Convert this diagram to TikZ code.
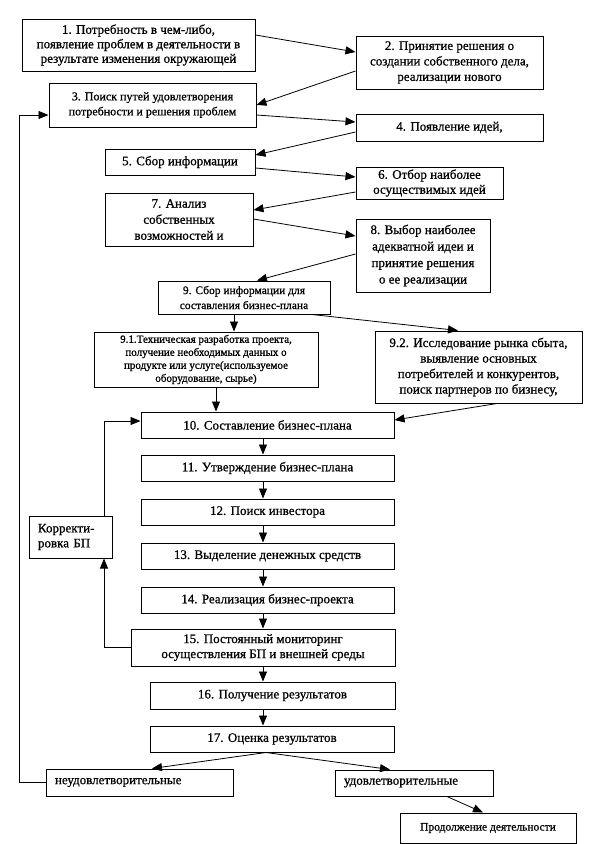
\documentclass[tikz,border=0pt]{standalone}
\usepackage{fontspec}
\setmainfont{Liberation Serif}[FakeBold=0.8]
\usetikzlibrary{arrows.meta}
\begin{document}
\begin{tikzpicture}[x=1pt,y=-1pt,
 box/.style={draw, line width=1pt, align=center, inner sep=2pt, font=\fontsize{13}{14.5}\selectfont},
 lbox/.style={box, align=left, inner xsep=9pt},
 fs/.style 2 args={font=\fontsize{#1}{#2}\selectfont},
 arr/.style={line width=0.8pt, -{Triangle[length=10pt,width=8pt]}},
 ]
\fill[white] (0,0) rectangle (595,844);
\useasboundingbox (0,0) rectangle (595,844);

\node[box, minimum width=233pt, minimum height=52pt] (b1) at (138.5,45) {1. Потребность в чем-либо,\\ появление проблем в деятельности в\\ результате изменения окружающей};
\node[box, fs={13}{15.5}, minimum width=187pt, minimum height=53pt] (b2) at (449.5,62.5) {2. Принятие решения о\\ создании собственного дела,\\ реализации нового};
\node[box, fs={12}{15}, minimum width=207pt, minimum height=44pt] (b3) at (152.5,105) {3. Поиск путей удовлетворения\\ потребности и решения проблем};
\node[box, minimum width=187pt, minimum height=27pt] (b4) at (449.5,127.5) {4. Появление идей,};
\node[box, minimum width=150pt, minimum height=26pt] (b5) at (180,162) {5. Сбор информации};
\node[box, fs={13}{15}, minimum width=147pt, minimum height=32pt] (b6) at (429.5,183) {6. Отбор наиболее\\ осуществимых идей};
\node[box, fs={13}{16}, minimum width=148pt, minimum height=53pt] (b7) at (179,219.5) {7. Анализ\\ собственных\\ возможностей и};
\node[box, fs={13}{16.5}, minimum width=134pt, minimum height=73pt] (b8) at (423,255.5) {8. Выбор наиболее\\ адекватной идеи и\\ принятие решения\\ о ее реализации};
\node[box, fs={11.5}{15}, minimum width=172pt, minimum height=33pt] (b9) at (244,297.5) {9. Сбор информации для\\ составления бизнес-плана};
\node[box, fs={11}{13}, minimum width=224pt, minimum height=55pt] (b91) at (206,359.5) {9.1.Техническая разработка проекта,\\ получение необходимых данных о\\ продукте или услуге(используемое\\ оборудование, сырье)};
\node[box, fs={13}{15.5}, minimum width=207pt, minimum height=72pt] (b92) at (478.5,367) {9.2. Исследование рынка сбыта,\\ выявление основных\\ потребителей и конкурентов,\\ поиск партнеров по бизнесу,};
\node[box, minimum width=253pt, minimum height=26pt] (b10) at (267.5,425) {10. Составление бизнес-плана};
\node[box, minimum width=253pt, minimum height=26pt] (b11) at (267.5,468) {11. Утверждение бизнес-плана};
\node[box, minimum width=253pt, minimum height=26pt] (b12) at (267.5,512) {12. Поиск инвестора};
\node[box, minimum width=253pt, minimum height=26pt] (b13) at (267.5,556) {13. Выделение денежных средств};
\node[box, minimum width=253pt, minimum height=26pt] (b14) at (267.5,600) {14. Реализация бизнес-проекта};
\node[box, fs={13}{15}, minimum width=264pt, minimum height=37pt] (b15) at (263,647.5) {15. Постоянный мониторинг\\ осуществления БП и внешней среды};
\node[box, minimum width=245pt, minimum height=27pt] (b16) at (272.5,695.5) {16. Получение результатов};
\node[box, minimum width=244pt, minimum height=26pt] (b17) at (272,739) {17. Оценка результатов};
\node[lbox, text width=169pt, minimum height=27pt] (bn) at (139.5,782.5) {неудовлетворительные};
\node[lbox, text width=140pt, minimum height=26pt] (bu) at (414,783) {удовлетворительные};
\node[box, fs={11.5}{13}, minimum width=176pt, minimum height=30pt] (bp) at (488,828) {Продолжение деятельности};
\node[lbox, fs={13}{15}, text width=65pt, minimum height=42pt] (bk) at (70.5,537) {Корректи-\\ровка БП};

\coordinate (L) at (19,115);
\coordinate (K) at (104,421);

\draw[arr] (b1.east |- 0,35) -- (b2.west |- 0,52);
\draw[arr] (b2.west |- 0,71) -- (b3.east |- 0,105);
\draw[arr] (b3.east |- 0,115) -- (b4.west |- 0,122);
\draw[arr] (b4.west |- 0,132) -- (b5.east |- 0,155);
\draw[arr] (b5.east |- 0,168) -- (b6.west |- 0,177);
\draw[arr] (b6.west |- 0,192) -- (b7.east |- 0,210);
\draw[arr] (b7.east |- 0,219) -- (b8.west |- 0,236);
\draw[arr] (b8.west |- 0,254) -- (b9.north -| 257,0);
\draw[arr] (b9.south -| 234,0) -- (b91.north -| 234,0);
\draw[arr] (b9.south -| 312,0) -- (b92.north -| 458,0);
\draw[arr] (b91.south -| 216,0) -- (b10.north -| 216,0);
\draw[arr] (b92.south -| 497,0) -- (b10.east |- 0,420);
\draw[arr] (b10.south -| 263,0) -- (b11.north -| 263,0);
\draw[arr] (b11.south -| 263,0) -- (b12.north -| 263,0);
\draw[arr] (b12.south -| 263,0) -- (b13.north -| 263,0);
\draw[arr] (b13.south -| 263,0) -- (b14.north -| 263,0);
\draw[arr] (b14.south -| 263,0) -- (b15.north -| 263,0);
\draw[arr] (b15.south -| 263,0) -- (b16.north -| 263,0);
\draw[arr] (b16.south -| 263,0) -- (b17.north -| 263,0);
\draw[arr] (b17.south -| 266,0) -- (bn.north -| 152,0);
\draw[arr] (b17.south -| 266,0) -- (bu.north -| 390,0);
\draw[arr] (bu.south -| 447,0) -- (bp.north -| 483,0);
\draw[arr] (bk.north -| K) -- (K) -- (b10.west |- K);
\draw[arr] (b15.west) -| (bk.south -| K);
\draw[arr] (bn.west) -| (L) -- (b3.west |- L);
\end{tikzpicture}
\end{document}
